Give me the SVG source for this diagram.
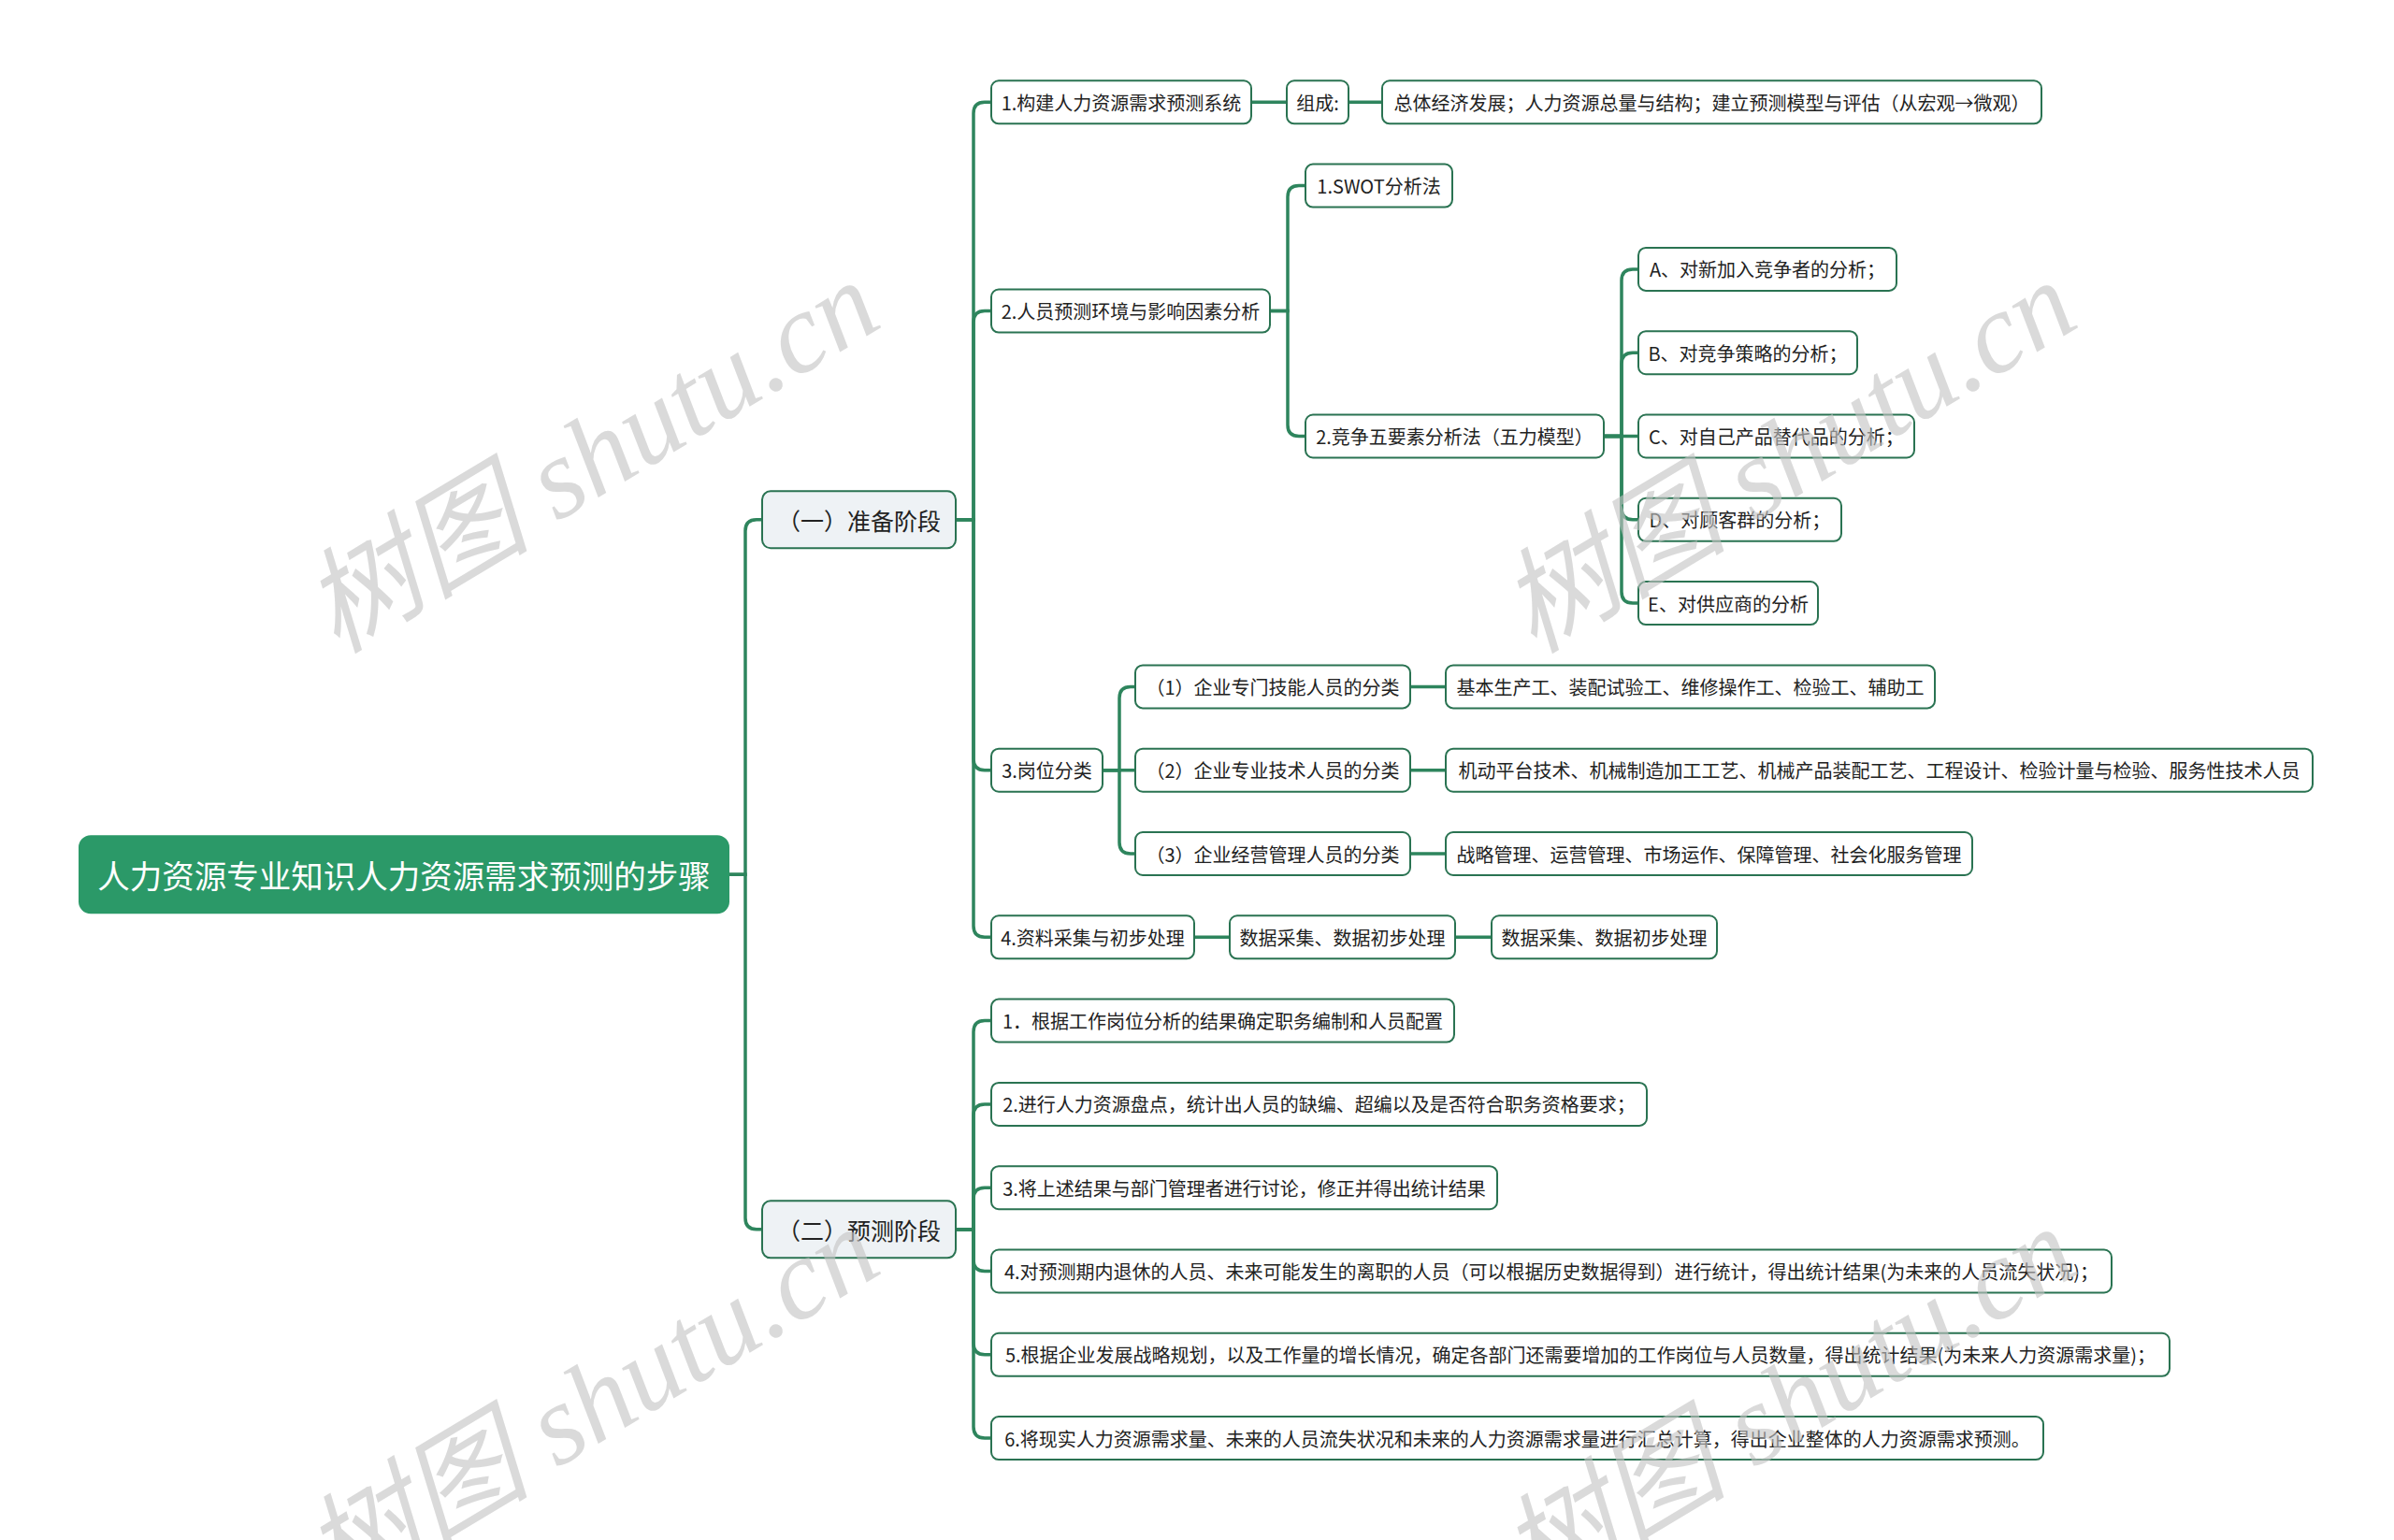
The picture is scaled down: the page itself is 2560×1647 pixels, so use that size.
<svg xmlns="http://www.w3.org/2000/svg" width="2560" height="1647" viewBox="0 0 2560 1647">
<style>
.bg{fill:#ffffff}
.root rect{fill:#2b9968;stroke:#2b9968;stroke-width:2}
.root text{fill:#ffffff;font-size:34.5px}
.l1 rect{fill:#eef2f5;stroke:#2a7352;stroke-width:2}
.l1 text{fill:#222222;font-size:25px}
.n rect{fill:#ffffff;stroke:#2a7352;stroke-width:2}
.n text{fill:#222222;font-size:20px}
text{font-family:"Noto Sans CJK SC","Noto Sans",sans-serif;text-anchor:middle;dominant-baseline:central}
.links path{fill:none;stroke:#2e855d;stroke-width:3.5;stroke-linecap:round}
.wm{font-family:"Liberation Serif","Noto Sans CJK SC",serif;font-style:italic;font-size:122px;fill:#c4c4c4;fill-opacity:0.62;text-anchor:start;dominant-baseline:auto}
</style>
<rect class="bg" x="0" y="0" width="2560" height="1647"/>
<g id="connectors" class="links">
<path d="M779,935.3 H797 V567.8 Q797,555.8 809,555.8 H815"/>
<path d="M779,935.3 H797 V1302.85 Q797,1314.85 809,1314.85 H815"/>
<path d="M1022,555.8 H1041 V121.3 Q1041,109.3 1053,109.3 H1060"/>
<path d="M1022,555.8 H1041 V344.55 Q1041,332.55 1053,332.55 H1060"/>
<path d="M1022,555.8 H1041 V811.7 Q1041,823.7 1053,823.7 H1060"/>
<path d="M1022,555.8 H1041 V990.3 Q1041,1002.3 1053,1002.3 H1060"/>
<path d="M1022,1314.85 H1041 V1103.6 Q1041,1091.6 1053,1091.6 H1060"/>
<path d="M1022,1314.85 H1041 V1192.9 Q1041,1180.9 1053,1180.9 H1060"/>
<path d="M1022,1314.85 H1041 V1282.2 Q1041,1270.2 1053,1270.2 H1060"/>
<path d="M1022,1314.85 H1041 V1347.5 Q1041,1359.5 1053,1359.5 H1060"/>
<path d="M1022,1314.85 H1041 V1436.8 Q1041,1448.8 1053,1448.8 H1060"/>
<path d="M1022,1314.85 H1041 V1526.1 Q1041,1538.1 1053,1538.1 H1060"/>
<path d="M1338,109.3 H1376"/>
<path d="M1442,109.3 H1478"/>
<path d="M1358,332.55 H1377 V210.6 Q1377,198.6 1389,198.6 H1396"/>
<path d="M1358,332.55 H1377 V454.5 Q1377,466.5 1389,466.5 H1396"/>
<path d="M1715,466.5 H1734 V299.9 Q1734,287.9 1746,287.9 H1752"/>
<path d="M1715,466.5 H1734 V389.2 Q1734,377.2 1746,377.2 H1752"/>
<path d="M1715,466.5 H1752"/>
<path d="M1715,466.5 H1734 V543.8 Q1734,555.8 1746,555.8 H1752"/>
<path d="M1715,466.5 H1734 V633.1 Q1734,645.1 1746,645.1 H1752"/>
<path d="M1179,823.7 H1197 V746.4 Q1197,734.4 1209,734.4 H1214"/>
<path d="M1179,823.7 H1214"/>
<path d="M1179,823.7 H1197 V901 Q1197,913 1209,913 H1214"/>
<path d="M1508,734.4 H1546"/>
<path d="M1508,823.7 H1546"/>
<path d="M1508,913 H1546"/>
<path d="M1277,1002.3 H1315"/>
<path d="M1556,1002.3 H1595"/>
</g>
<g id="root" class="root"><rect x="85" y="894.3" width="694" height="82" rx="12"/><text x="432" y="935.3">人力资源专业知识人力资源需求预测的步骤</text></g>
<g id="a1" class="l1"><rect x="815" y="525.3" width="207" height="61" rx="9"/><text x="918.5" y="555.8">（一）准备阶段</text></g>
<g id="a2" class="l1"><rect x="815" y="1284.35" width="207" height="61" rx="9"/><text x="918.5" y="1314.85">（二）预测阶段</text></g>
<g id="b1" class="n"><rect x="1060" y="86.3" width="278" height="46" rx="8"/><text x="1199" y="109.3">1.构建人力资源需求预测系统</text></g>
<g id="c1" class="n"><rect x="1376" y="86.3" width="66" height="46" rx="8"/><text x="1409" y="109.3">组成:</text></g>
<g id="d1" class="n"><rect x="1478" y="86.3" width="705" height="46" rx="8"/><text x="1830.5" y="109.3">总体经济发展；人力资源总量与结构；建立预测模型与评估（从宏观→微观）</text></g>
<g id="b2" class="n"><rect x="1060" y="309.55" width="298" height="46" rx="8"/><text x="1209" y="332.55">2.人员预测环境与影响因素分析</text></g>
<g id="c2" class="n"><rect x="1396" y="175.6" width="157" height="46" rx="8"/><text x="1474.5" y="198.6">1.SWOT分析法</text></g>
<g id="c3" class="n"><rect x="1396" y="443.5" width="319" height="46" rx="8"/><text x="1555.5" y="466.5">2.竞争五要素分析法（五力模型）</text></g>
<g id="d2" class="n"><rect x="1752" y="264.9" width="276" height="46" rx="8"/><text x="1890" y="287.9">A、对新加入竞争者的分析；</text></g>
<g id="d3" class="n"><rect x="1752" y="354.2" width="234" height="46" rx="8"/><text x="1869" y="377.2">B、对竞争策略的分析；</text></g>
<g id="d4" class="n"><rect x="1752" y="443.5" width="295" height="46" rx="8"/><text x="1899.5" y="466.5">C、对自己产品替代品的分析；</text></g>
<g id="d5" class="n"><rect x="1752" y="532.8" width="217" height="46" rx="8"/><text x="1860.5" y="555.8">D、对顾客群的分析；</text></g>
<g id="d6" class="n"><rect x="1752" y="622.1" width="192" height="46" rx="8"/><text x="1848" y="645.1">E、对供应商的分析</text></g>
<g id="b3" class="n"><rect x="1060" y="800.7" width="119" height="46" rx="8"/><text x="1119.5" y="823.7">3.岗位分类</text></g>
<g id="c4" class="n"><rect x="1214" y="711.4" width="294" height="46" rx="8"/><text x="1361" y="734.4">（1）企业专门技能人员的分类</text></g>
<g id="c5" class="n"><rect x="1214" y="800.7" width="294" height="46" rx="8"/><text x="1361" y="823.7">（2）企业专业技术人员的分类</text></g>
<g id="c6" class="n"><rect x="1214" y="890" width="294" height="46" rx="8"/><text x="1361" y="913">（3）企业经营管理人员的分类</text></g>
<g id="d7" class="n"><rect x="1546" y="711.4" width="523" height="46" rx="8"/><text x="1807.5" y="734.4">基本生产工、装配试验工、维修操作工、检验工、辅助工</text></g>
<g id="d8" class="n"><rect x="1546" y="800.7" width="927" height="46" rx="8"/><text x="2009.5" y="823.7">机动平台技术、机械制造加工工艺、机械产品装配工艺、工程设计、检验计量与检验、服务性技术人员</text></g>
<g id="d9" class="n"><rect x="1546" y="890" width="563" height="46" rx="8"/><text x="1827.5" y="913">战略管理、运营管理、市场运作、保障管理、社会化服务管理</text></g>
<g id="b4" class="n"><rect x="1060" y="979.3" width="217" height="46" rx="8"/><text x="1168.5" y="1002.3">4.资料采集与初步处理</text></g>
<g id="c7" class="n"><rect x="1315" y="979.3" width="241" height="46" rx="8"/><text x="1435.5" y="1002.3">数据采集、数据初步处理</text></g>
<g id="d10" class="n"><rect x="1595" y="979.3" width="241" height="46" rx="8"/><text x="1715.5" y="1002.3">数据采集、数据初步处理</text></g>
<g id="e1" class="n"><rect x="1060" y="1068.6" width="495" height="46" rx="8"/><text x="1307.5" y="1091.6">1．根据工作岗位分析的结果确定职务编制和人员配置</text></g>
<g id="e2" class="n"><rect x="1060" y="1157.9" width="701" height="46" rx="8"/><text x="1410.5" y="1180.9">2.进行人力资源盘点，统计出人员的缺编、超编以及是否符合职务资格要求；</text></g>
<g id="e3" class="n"><rect x="1060" y="1247.2" width="541" height="46" rx="8"/><text x="1330.5" y="1270.2">3.将上述结果与部门管理者进行讨论，修正并得出统计结果</text></g>
<g id="e4" class="n"><rect x="1060" y="1336.5" width="1198" height="46" rx="8"/><text x="1659" y="1359.5">4.对预测期内退休的人员、未来可能发生的离职的人员（可以根据历史数据得到）进行统计，得出统计结果(为未来的人员流失状况)；</text></g>
<g id="e5" class="n"><rect x="1060" y="1425.8" width="1260" height="46" rx="8"/><text x="1690" y="1448.8">5.根据企业发展战略规划，以及工作量的增长情况，确定各部门还需要增加的工作岗位与人员数量，得出统计结果(为未来人力资源需求量)；</text></g>
<g id="e6" class="n"><rect x="1060" y="1515.1" width="1125" height="46" rx="8"/><text x="1622.5" y="1538.1">6.将现实人力资源需求量、未来的人员流失状况和未来的人力资源需求量进行汇总计算，得出企业整体的人力资源需求预测。</text></g>
<g id="watermarks">
<text class="wm" transform="translate(360,700) rotate(-31)">树图 shutu.cn</text>
<text class="wm" transform="translate(1640,700) rotate(-31)">树图 shutu.cn</text>
<text class="wm" transform="translate(360,1712) rotate(-31)">树图 shutu.cn</text>
<text class="wm" transform="translate(1640,1712) rotate(-31)">树图 shutu.cn</text>
</g>
</svg>
